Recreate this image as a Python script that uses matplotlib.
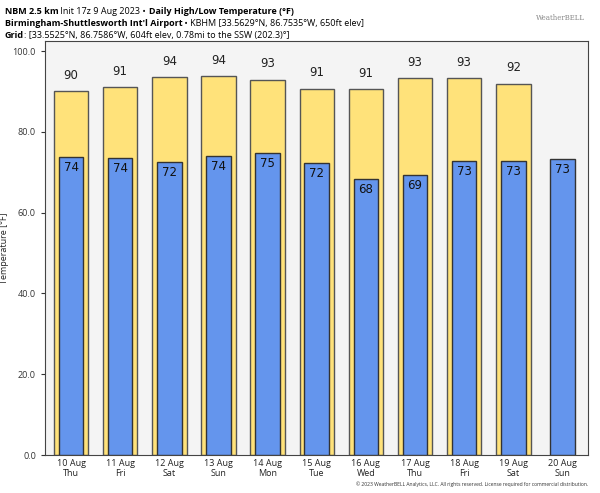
import numpy as np
import matplotlib.pyplot as plt

plt.rcParams["font.family"] = ["Open Sans", "DejaVu Sans"]

dates = ["10 Aug", "11 Aug", "12 Aug", "13 Aug", "14 Aug", "15 Aug",
         "16 Aug", "17 Aug", "18 Aug", "19 Aug", "20 Aug"]
days = ["Thu", "Fri", "Sat", "Sun", "Mon", "Tue", "Wed", "Thu", "Fri", "Sat", "Sun"]
highs = [90.1, 91.1, 93.6, 93.8, 92.9, 90.7, 90.6, 93.3, 93.3, 91.9, None]
lows = [73.8, 73.5, 72.5, 74.0, 74.8, 72.3, 68.3, 69.3, 72.8, 72.8, 73.3]

title_lines = [
    ("NBM 2.5 km", " Init 17z 9 Aug 2023 • ", "Daily High/Low Temperature (°F)"),
    ("Birmingham-Shuttlesworth Int'l Airport", " • KBHM [33.5629°N, 86.7535°W, 650ft elev]", ""),
    ("Grid", ": [33.5525°N, 86.7586°W, 604ft elev, 0.78mi to the SSW (202.3)°]", ""),
]

fig = plt.figure(figsize=(6, 4.93), dpi=100)
ax = fig.add_axes([0.075, 0.077, 0.905, 0.84])
ax.set_facecolor("#f4f4f4")

x = np.arange(len(dates))

# highs (yellow, wide)
for i, h in enumerate(highs):
    if h is None:
        continue
    ax.bar(x[i], h, width=0.7, color="#ffe27a", edgecolor="#555555", linewidth=1.0, zorder=2)
    ax.text(x[i], h + 2.3, str(round(h)), ha="center", va="bottom", fontsize=8.5, color="#222222",
            family="DejaVu Sans")

# lows (blue, narrow)
for i, l in enumerate(lows):
    ax.bar(x[i], l, width=0.5, color="#6495ed", edgecolor="#333333", linewidth=1.0, zorder=3)
    ax.text(x[i], l - 1.0, str(round(l)), ha="center", va="top", fontsize=8.5, color="#111111",
            zorder=4, family="DejaVu Sans")

ax.set_xlim(-0.53, 10.52)
ax.set_ylim(0, 102.5)
ax.set_yticks([0, 20, 40, 60, 80, 100])
ax.set_yticklabels(["0.0", "20.0", "40.0", "60.0", "80.0", "100.0"], fontsize=6.5, color="#333333")
ax.set_xticks(x)
ax.set_xticklabels([d + "\n" + w for d, w in zip(dates, days)], fontsize=6.5, color="#222222",
                   linespacing=1.1)
ax.tick_params(axis="x", length=0, pad=3)
ax.tick_params(axis="y", length=3, color="#333333")
ax.set_ylabel("Temperature [°F]", fontsize=6.5, color="#222222")
ax.yaxis.set_label_coords(-0.066, 0.5)
for s in ax.spines.values():
    s.set_color("#444444")
    s.set_linewidth(0.8)

# header: bold/normal pieces placed one after the other
fig.canvas.draw()
renderer = fig.canvas.get_renderer()
y0 = 0.985
for bold1, normal, bold2 in title_lines:
    xpos = 0.008
    for txt, wt in ((bold1, "bold"), (normal, "normal"), (bold2, "bold")):
        if not txt:
            continue
        t = fig.text(xpos, y0, txt, fontsize=6.5, fontweight=wt, va="top", ha="left")
        bb = t.get_window_extent(renderer)
        xpos += bb.width / fig.bbox.width
    y0 -= 0.024

fig.text(0.975, 0.963, "WeatherBELL", fontsize=5, color="#888888", ha="right", va="center",
         family="DejaVu Serif")
fig.text(0.98, 0.012, "© 2023 WeatherBELL Analytics, LLC. All rights reserved. License required for commercial distribution.",
         fontsize=3.6, ha="right", va="bottom", color="#333333")

fig.savefig("out.png", dpi=100)
